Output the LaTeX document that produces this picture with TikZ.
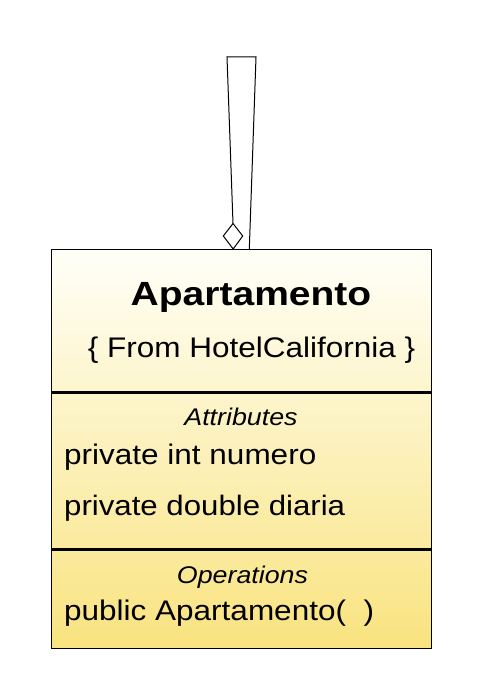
\documentclass[tikz,border=0pt]{standalone}
\usepackage{fontspec}
\setmainfont{Liberation Sans}
% wide, slightly flattened text as drawn in the class box
\newcommand{\flattxt}[2][0.9]{\scalebox{1}[#1]{#2}}
\begin{document}
\begin{tikzpicture}[x=1pt,y=-1pt,
  classbox/.style={draw=black,line width=1pt,top color=clstop,bottom color=clsbottom},
  divider/.style={draw=black,line width=2.4pt},
  loopline/.style={draw=black,line width=1pt,line join=miter},
  txt/.style={inner sep=0pt,anchor=base west},
  ctxt/.style={inner sep=0pt,anchor=base}]
\definecolor{clstop}{HTML}{FFFFF8}
\definecolor{clsbottom}{HTML}{F9E37F}
\useasboundingbox (0,0) rectangle (482,700);
% class box with gradient fill
\path[classbox] (51.5,249.5) rectangle (431,648);
% compartment dividers
\draw[divider] (51.5,392.5) -- (431,392.5);
\draw[divider] (51.5,549.5) -- (431,549.5);
% texts
\node[ctxt] (title) at (251,305.5) {\flattxt[0.86]{\fontsize{39}{39}\selectfont\bfseries Apartamento}};
\node[ctxt] (from) at (251.5,357) {\flattxt{\fontsize{31.5}{31.5}\selectfont \{ From HotelCalifornia \}}};
\node[ctxt] (attrs) at (241,425.5) {\flattxt{\fontsize{26.8}{26.8}\selectfont\itshape Attributes}};
\node[txt] (a1) at (64,464) {\flattxt{\fontsize{31.5}{31.5}\selectfont private int numero}};
\node[txt] (a2) at (64,515.5) {\flattxt{\fontsize{31.2}{31.2}\selectfont private double diaria}};
\node[ctxt] (ops) at (242.5,583) {\flattxt{\fontsize{26.8}{26.8}\selectfont\itshape Operations}};
\node[txt] (o1) at (64,620.5) {\flattxt{\fontsize{31.5}{31.5}\selectfont public Apartamento(\ \ )}};
% self association with aggregation diamond
\coordinate (dtop) at (233,223.5);
\coordinate (dleft) at (223.3,236);
\coordinate (dright) at (242.7,236);
\coordinate (dbottom) at (233.2,249);
\coordinate (tl) at (227,57);
\coordinate (tr) at (256,57);
\coordinate (rb) at (249.3,249);
\draw[loopline,fill=white] (dtop) -- (dleft) -- (dbottom) -- (dright) -- cycle;
\draw[loopline] (dtop) -- (tl) -- (tr) -- (rb);
\end{tikzpicture}
\end{document}
